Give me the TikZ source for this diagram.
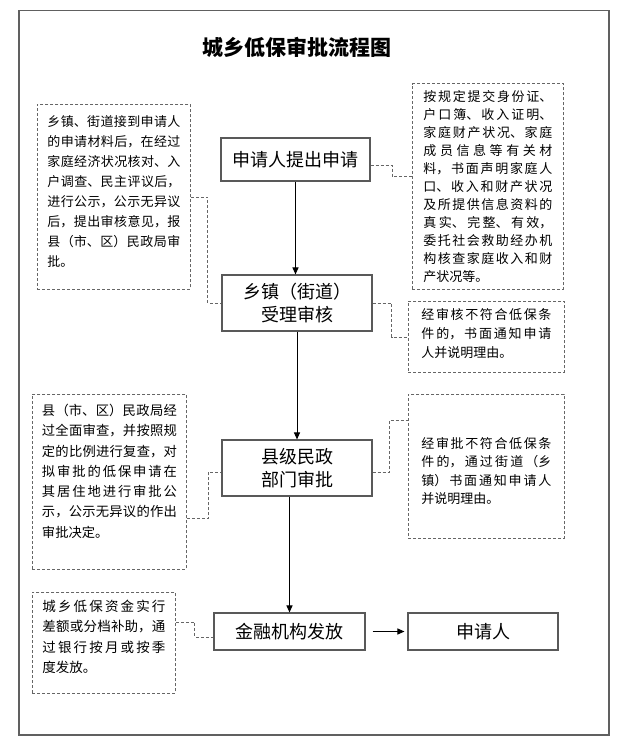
\documentclass[tikz,border=0pt]{standalone}
\usepackage{fontspec}
\usetikzlibrary{arrows.meta}
\newfontfamily\cjk{Noto Sans CJK SC}
\XeTeXlinebreaklocale "zh"
\XeTeXlinebreakskip=0pt plus 2pt
\definecolor{boxline}{gray}{0.35}
\definecolor{dashline}{gray}{0.4}
\begin{document}
\begin{tikzpicture}[x=1pt,y=-1pt,
    stepbox/.style={draw=boxline,line width=1.1pt,inner sep=0pt,align=center,font=\cjk\fontsize{18}{23}\selectfont},
    notebox/.style={draw=dashline,dash pattern=on 3pt off 2pt,line width=0.9pt,inner ysep=0pt,align=justify,anchor=north west,font=\cjk\fontsize{13}{#1}\selectfont},
    flow/.style={line width=1pt,-{Triangle[length=7pt,width=6pt]}},
    link/.style={draw=dashline,dash pattern=on 3pt off 2pt,line width=0.9pt}]
    \useasboundingbox (0,0) rectangle (630,749);
    \draw[gray!75!black,line width=1.8pt] (18.8,10.5) rectangle (609,735);
    \node[font=\cjk\bfseries\fontsize{21}{25}\selectfont] (title) at (297,47.7) {城乡低保审批流程图};

    \node[stepbox,minimum width=149pt,minimum height=43pt] (apply) at (295.5,159.5) {申请人提出申请};
    \node[stepbox,minimum width=150pt,minimum height=56pt] (town) at (297,303) {乡镇（街道）\\受理审核};
    \node[stepbox,minimum width=150pt,minimum height=56pt] (county) at (297,468) {县级民政\\部门审批};
    \node[stepbox,minimum width=151pt,minimum height=37pt] (bank) at (289.5,631.5) {金融机构发放};
    \node[stepbox,minimum width=150pt,minimum height=37pt] (applicant) at (483,631.5) {申请人};

    \node[notebox=20,text width=133pt,inner xsep=10pt,text height=22pt,text depth=163pt] (townNote) at (37,104) {乡镇、街道接到申请人\linebreak 的申请材料后，在经过\linebreak 家庭经济状况核对、入\linebreak 户调查、民主评议后，\linebreak 进行公示，公示无异议\linebreak 后，提出审核意见，报\linebreak 县（市、区）民政局审\linebreak 批。};
    \node[notebox=18,text width=129pt,inner xsep=11pt,text height=17.5pt,text depth=188pt] (materialNote) at (412,83.5) {按规定提交身份证、\linebreak 户口簿、收入证明、\linebreak 家庭财产状况、家庭\linebreak 成员信息等有关材\linebreak 料，书面声明家庭人\linebreak 口、收入和财产状况\linebreak 及所提供信息资料的\linebreak 真实、完整、有效，\linebreak 委托社会救助经办机\linebreak 构核查家庭收入和财\linebreak 产状况等。};
    \node[notebox=19,text width=130pt,inner xsep=13pt,text height=18.5pt,text depth=52.5pt] (rejectTown) at (408,301) {经审核不符合低保条\linebreak 件的，书面通知申请\linebreak 人并说明理由。};
    \node[notebox=20.3,font=\cjk\fontsize{13.3}{20.3}\selectfont,text width=135pt,inner xsep=9.5pt,text height=21pt,text depth=154pt] (countyNote) at (32,394) {县（市、区）民政局经\linebreak 过全面审查，并按照规\linebreak 定的比例进行复查，对\linebreak 拟审批的低保申请在\linebreak 其居住地进行审批公\linebreak 示，公示无异议的作出\linebreak 审批决定。};
    \node[notebox=18.3,text width=130pt,inner xsep=13pt,text height=54pt,text depth=90pt] (rejectCounty) at (408,394) {经审批不符合低保条\linebreak 件的，通过街道（乡\linebreak 镇）书面通知申请人\linebreak 并说明理由。};
    \node[notebox=20.5,font=\cjk\fontsize{13.5}{20.5}\selectfont,text width=123pt,inner xsep=10pt,text height=19pt,text depth=82pt] (fundNote) at (32,592) {城乡低保资金实行\linebreak 差额或分档补助，通\linebreak 过银行按月或按季\linebreak 度发放。};

    \draw[flow] (apply.south) -- (apply.south |- town.north);
    \draw[flow] (town) -- (county);
    \draw[flow] (county.south -| bank) -- (bank.north);
    \draw[flow,shorten <=7pt,shorten >=3pt] (bank) -- (applicant);

    \draw[link] ([yshift=-6pt]apply.east) -- ++(22,0) |- ([yshift=10pt]materialNote.west);
    \draw[link] (townNote.east) -- ++(17,0) |- (town.west);
    \draw[link] (town.east) -- ++(19,0) |- (rejectTown.west);
    \draw[link] ([yshift=-4pt]county.east) -- ++(17,0) |- ([yshift=-26pt]rejectCounty.north west);
    \draw[link] ([yshift=-36.5pt]countyNote.east) -- ++(22,0) |- ([yshift=-4pt]county.west);
    \draw[link] ([yshift=21pt]fundNote.east) -- ++(19,0) |- ([yshift=-5.5pt]bank.west);
\end{tikzpicture}
\end{document}
